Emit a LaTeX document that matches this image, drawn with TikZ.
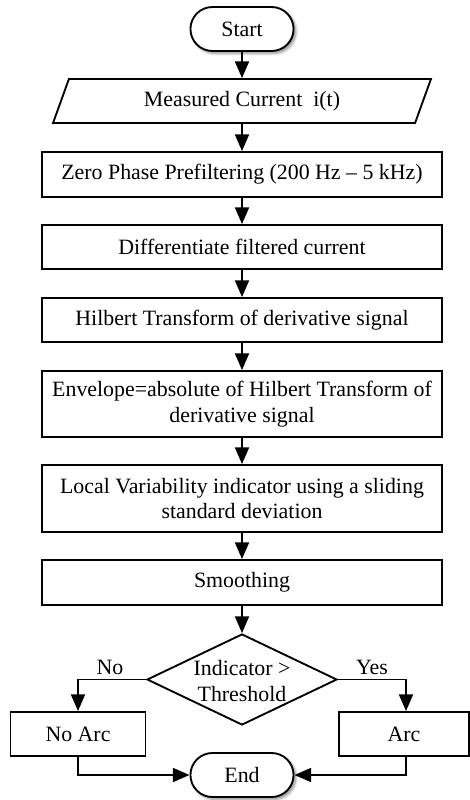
\documentclass[tikz,border=0pt]{standalone}
\usepackage{fontspec}
\setmainfont{Liberation Serif}
\usetikzlibrary{arrows.meta,shapes.geometric,shapes.misc,shadows.blur}
\begin{document}
\begin{tikzpicture}[x=0.75pt,y=-0.75pt,
  font=\fontsize{16.4}{19}\selectfont,
  box/.style={draw, line width=1.4pt, rectangle, minimum width=300pt, align=center, inner sep=0pt},
  term/.style={draw, rounded rectangle, minimum width=84pt, minimum height=33pt, line width=1.4pt, fill=white,
    blur shadow={shadow xshift=1.8pt, shadow yshift=-1.8pt, shadow blur steps=6, shadow blur radius=2pt, shadow opacity=45}},
  arr/.style={-{Triangle[length=12.5pt,width=10.5pt]}, line width=1.4pt},
  lbl/.style={inner sep=0pt}
]
\useasboundingbox (0,0) rectangle (470,800);

\node[term] (start) at (242,29) {Start};
\node[draw, line width=1.4pt, trapezium, trapezium left angle=65.6, trapezium right angle=114.4,
      trapezium stretches=true, minimum width=283.5pt, minimum height=33pt, inner sep=0pt] (meas) at (242,101) {Measured Current~ i(t)};
\node[box, minimum height=33.75pt] (zero) at (242,174.5) {Zero Phase Prefiltering (200 Hz \textendash\ 5 kHz)};
\node[box, minimum height=33pt] (diff) at (242,247) {Differentiate filtered current};
\node[box, minimum height=33pt] (hilb) at (242,320) {Hilbert Transform of derivative signal};
\node[box, minimum height=49.5pt] (env) at (242,404) {Envelope=absolute of Hilbert Transform of\\derivative signal};
\node[box, minimum height=50.25pt] (loc) at (242,498.5) {Local Variability indicator using a sliding\\standard deviation};
\node[box, minimum height=33.75pt] (smo) at (242,582.5) {Smoothing};
\node[draw, line width=1.4pt, diamond, minimum width=142.5pt, minimum height=68.25pt, inner sep=0pt] (dec) at (242,679.5) {};
\node[align=center, inner sep=0pt] (dectext) at (242,681) {Indicator >\\Threshold};
\node[box, minimum width=101.25pt, minimum height=33pt] (noarc) at (78,734) {No Arc};
\node[box, minimum width=97.5pt, minimum height=33pt] (arc) at (404,734) {Arc};
\node[term] (end) at (242,775) {End};

\node[lbl] (nolab) at (110,667) {No};
\node[lbl] (yeslab) at (372,667) {Yes};

\draw[arr] (start) -- (meas);
\draw[arr] (meas) -- (zero);
\draw[arr] (zero) -- (diff);
\draw[arr] (diff) -- (hilb);
\draw[arr] (hilb) -- (env);
\draw[arr] (env) -- (loc);
\draw[arr] (loc) -- (smo);
\draw[arr] (smo) -- (dec);
\draw[arr] (dec.west) -| (noarc.north);
\draw[arr] (dec.east) -| (arc.north -| 406,0);
\draw[arr] (noarc.south) |- (end.west);
\draw[arr] (arc.south -| 406,0) |- (end.east);
\end{tikzpicture}
\end{document}
